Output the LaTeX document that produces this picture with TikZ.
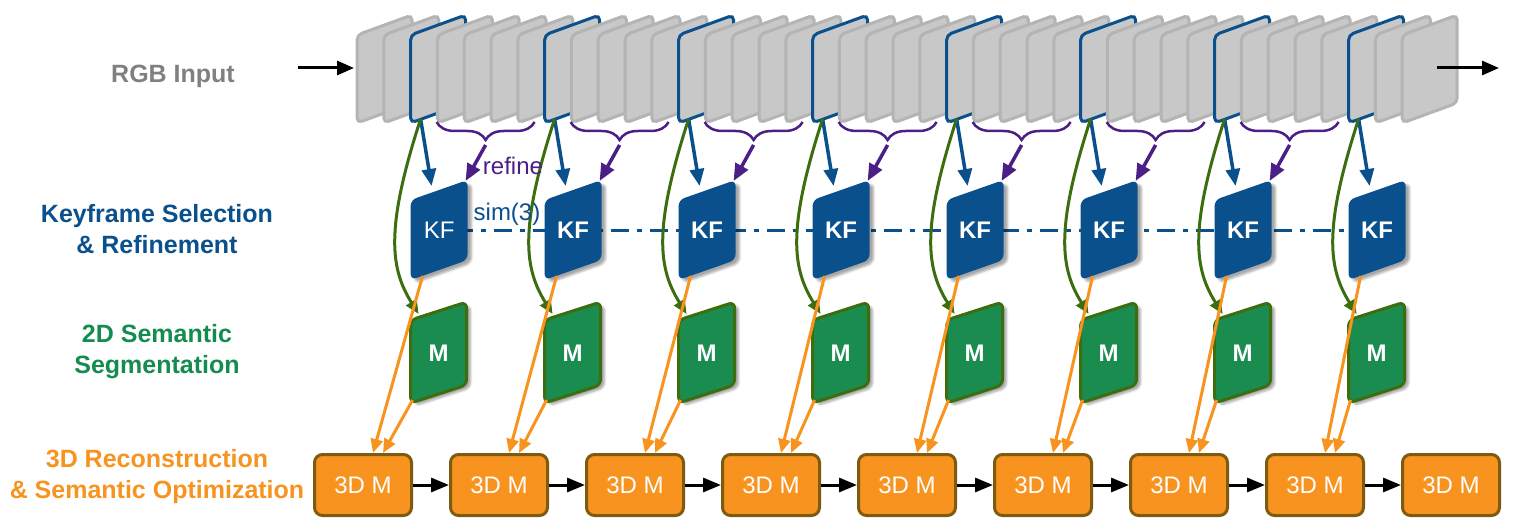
\documentclass[tikz,border=0pt]{standalone}
\usepackage{fontspec}
\setmainfont{Liberation Sans}
\usepackage{tikz}
\usetikzlibrary{arrows.meta}
\usetikzlibrary{decorations.pathreplacing}
\usetikzlibrary{shadows.blur}
\usetikzlibrary{backgrounds}
\definecolor{kfblue}{HTML}{0A508C}
\definecolor{framegray}{HTML}{C8C8C8}
\definecolor{frameedge}{HTML}{B4B4B4}
\definecolor{segfill}{HTML}{1B8C50}
\definecolor{segedge}{HTML}{3C6E0F}
\definecolor{recfill}{HTML}{F7931E}
\definecolor{recedge}{HTML}{7D5C12}
\definecolor{refpurple}{HTML}{4B1F86}
\definecolor{labelgray}{HTML}{808080}
\definecolor{labelgreen}{HTML}{148C50}
\tikzset{
  rgbframe/.style={draw=frameedge,fill=framegray,line width=3pt,rounded corners=5pt},
  keyframe/.style={draw=kfblue,fill=framegray,line width=3pt,rounded corners=5pt},
  kfbox/.style={fill=kfblue,rounded corners=6pt,blur shadow={shadow xshift=4pt,shadow yshift=-3pt,shadow opacity=35}},
  segbox/.style={draw=segedge,fill=segfill,line width=3pt,rounded corners=6pt,blur shadow={shadow xshift=4pt,shadow yshift=-3pt,shadow opacity=35}},
  recbox/.style={draw=recedge,fill=recfill,line width=3pt,rounded corners=8pt,minimum width=97pt,minimum height=61pt,inner sep=0pt,text=white,font=\fontsize{24}{28}\selectfont},
  boxtext/.style={text=white,inner sep=0pt,font=\fontsize{24}{28}\selectfont\bfseries},
  lbl/.style={align=center,font=\fontsize{25}{31}\selectfont\bfseries},
  note/.style={inner sep=0pt,font=\fontsize{24}{28}\selectfont},
  refbrace/.style={draw=refpurple,line width=2.5pt,decorate,decoration={brace,mirror,amplitude=18pt}},
  simline/.style={draw=kfblue,line width=3pt,dash pattern=on 18pt off 8pt on 5pt off 8pt}
}
\begin{document}
\begin{tikzpicture}[x=1pt,y=-1pt,>={Stealth[inset=0pt,length=17pt,width=14pt]}]
                \useasboundingbox (0,0) rectangle (1516,524);
                % input frames
                \foreach \i in {0,...,39}{
                    \pgfmathsetmacro\fx{357+26.8*\i}
                    \pgfmathtruncatemacro\iskf{mod(\i,5)==2}
                    \ifnum\iskf=1
                        \draw [keyframe](\fx,35)--++(55,-20)--++(0,88)--++(-55,20)--cycle;
                    \else
                        \draw [rgbframe](\fx,35)--++(55,-20)--++(0,88)--++(-55,20)--cycle;
                    \fi
                }
                \coordinate (inL) at (298,68);
                \coordinate (inR) at (354,68);
                \coordinate (outL) at (1437,68);
                \coordinate (outR) at (1499,68);
                \draw [->,line width=3pt](inL)--(inR);
                \draw [->,line width=3pt](outL)--(outR);
                % 3D maps
                \foreach \j in {0,...,8}{
                    \node [recbox](rec\j) at (363+136*\j,485){3D M};
                }
                \foreach \j [evaluate=\j as \jn using int(\j+1)] in {0,...,7}{
                    \draw [->,line width=3pt,>={Stealth[inset=0pt,length=18pt,width=14pt]}](rec\j)--(rec\jn);
                }
                % keyframe columns
                \foreach \k in {0,...,7}{
                    \pgfmathsetmacro\kx{410.6+134*\k}
                    \coordinate (src\k) at (\kx+10,119);
                    \coordinate (kftop\k) at (\kx+21,186);
                    \coordinate (kfbot\k) at (\kx+12,276);
                    \coordinate (segtop\k) at (\kx+8,314);
                    \coordinate (segbot\k) at (\kx+2,400);
                    \ifnum\k<7
                        \coordinate (brL\k) at (\kx+26,122);
                        \coordinate (brR\k) at (\kx+124,122);
                        \coordinate (brT\k) at (\kx+75,145);
                        \coordinate (kfcorner\k) at (\kx+55,181);
                        \draw [refbrace](brL\k)--(brR\k);
                        \draw [->,refpurple,line width=3.5pt](brT\k)--(kfcorner\k);
                    \fi
                    \draw [->,kfblue,line width=3.5pt](src\k)--(kftop\k);
                    \fill [kfbox](\kx,200)--++(57,-20)--++(0,80)--++(-57,20)--cycle;
                    \node [boxtext](kf\k) at (\kx+28.5,230){\ifnum\k=0 \mdseries\fi KF};
                    \draw [segbox](\kx,320)--++(56,-18)--++(0,83)--++(-56,18)--cycle;
                    \node [boxtext](seg\k) at (\kx+28,353){M};
                    \draw [->,segedge,line width=3pt,>={Stealth[inset=0pt,length=14pt,width=12pt]}](src\k)..controls +(-36,111) and +(-28,-45)..(segtop\k);
                    \draw [->,recfill,line width=3pt,>={Stealth[inset=0pt,length=14pt,width=12pt]}](kfbot\k)--([xshift=10pt]rec\k.north);
                    \draw [->,recfill,line width=3pt,>={Stealth[inset=0pt,length=14pt,width=12pt]}](segbot\k)--([xshift=20pt]rec\k.north);
                }
                \node [note,text=kfblue](simlbl) at (507,214){sim(3)};
                \node [note,text=refpurple](reflbl) at (513,166){refine};
                % row labels
                \node [lbl,text=labelgray](rgblbl) at (173,76){RGB Input};
                \node [lbl,text=kfblue](kflbl) at (157,229){Keyframe Selection\\\& Refinement};
                \node [lbl,text=labelgreen](seglbl) at (157,352){2D Semantic\\Segmentation};
                \node [lbl,text=recfill](reclbl) at (157,477){3D Reconstruction\\\& Semantic Optimization};
                \begin{scope}[on background layer]
                    \draw [simline](kf0)--(kf7);
                \end{scope}
            \end{tikzpicture}
\end{document}
